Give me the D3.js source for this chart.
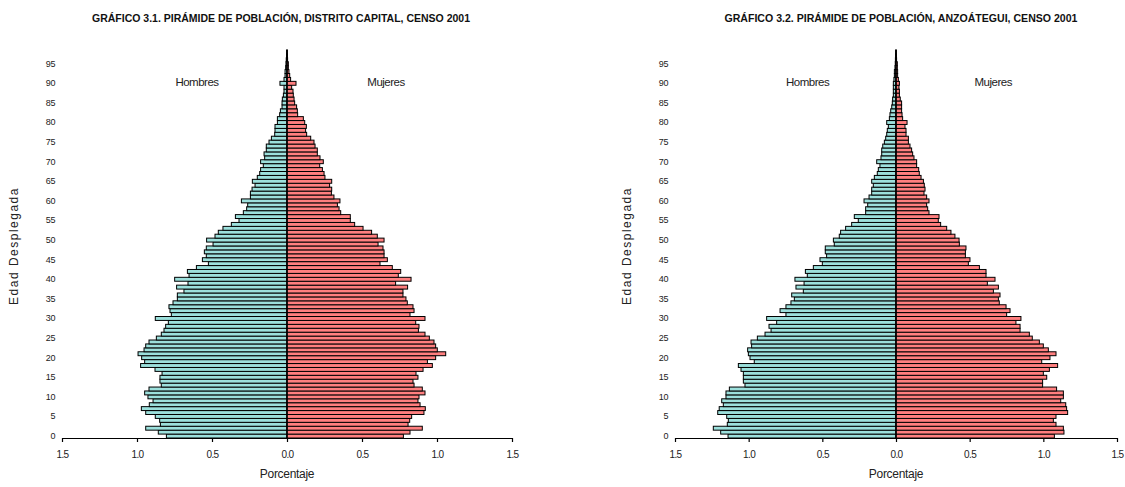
<!DOCTYPE html>
<html>
<head>
<meta charset="utf-8">
<script src="https://cdn.jsdelivr.net/npm/d3@7"></script>
<style>
  body { margin: 0; background: #fff; }
  svg text { font-family: "Liberation Sans", Arial, sans-serif; fill: #222; }
</style>
</head>
<body>
<svg id="chart" width="1125" height="487"></svg>
<script>
// edades 0..98
const ages = d3.range(0, 99);
const ageTicks = d3.range(0, 100, 5);
const tickValues = [-1.5, -1, -0.5, 0, 0.5, 1, 1.5];
const tickLabels = ['1.5', '1.0', '0.5', '0.0', '0.5', '1.0', '1.5'];

// Distrito Capital (% por edad simple)
const dcHombres = [
  0.804, 0.858, 0.942, 0.844, 0.849, 0.878, 0.942, 0.971, 0.918, 0.893,
  0.927, 0.949, 0.920, 0.838, 0.847, 0.847, 0.833, 0.880, 0.976, 0.949,
  0.969, 0.993, 0.953, 0.942, 0.920, 0.871, 0.838, 0.820, 0.809, 0.791,
  0.878, 0.771, 0.780, 0.787, 0.760, 0.731, 0.731, 0.687, 0.736, 0.660,
  0.749, 0.653, 0.664, 0.604, 0.524, 0.564, 0.538, 0.551, 0.538, 0.493,
  0.536, 0.480, 0.458, 0.427, 0.371, 0.320, 0.344, 0.291, 0.269, 0.262,
  0.304, 0.244, 0.244, 0.233, 0.213, 0.231, 0.198, 0.182, 0.176, 0.158,
  0.176, 0.149, 0.153, 0.138, 0.138, 0.120, 0.104, 0.082, 0.080, 0.080,
  0.064, 0.064, 0.049, 0.044, 0.033, 0.033, 0.031, 0.024, 0.020, 0.020,
  0.047, 0.020, 0.013, 0.013, 0.009, 0.007, 0.005, 0.003, 0.002
];
const dcMujeres = [
  0.776, 0.820, 0.902, 0.807, 0.818, 0.831, 0.913, 0.922, 0.887, 0.873,
  0.880, 0.920, 0.902, 0.847, 0.840, 0.873, 0.860, 0.907, 0.969, 0.936,
  0.991, 1.058, 1.002, 0.991, 0.980, 0.949, 0.920, 0.876, 0.880, 0.858,
  0.920, 0.820, 0.847, 0.840, 0.802, 0.793, 0.773, 0.773, 0.804, 0.724,
  0.827, 0.742, 0.758, 0.702, 0.620, 0.669, 0.647, 0.647, 0.640, 0.607,
  0.647, 0.602, 0.564, 0.507, 0.451, 0.422, 0.422, 0.358, 0.347, 0.336,
  0.353, 0.313, 0.296, 0.298, 0.284, 0.298, 0.253, 0.247, 0.236, 0.218,
  0.242, 0.220, 0.202, 0.202, 0.187, 0.180, 0.158, 0.131, 0.124, 0.129,
  0.118, 0.109, 0.071, 0.069, 0.064, 0.051, 0.047, 0.042, 0.040, 0.031,
  0.060, 0.024, 0.018, 0.013, 0.009, 0.009, 0.004, 0.003, 0.002
];

// Anzoátegui
const anzHombres = [
  1.140, 1.190, 1.240, 1.145, 1.138, 1.149, 1.210, 1.200, 1.172, 1.183,
  1.154, 1.154, 1.131, 1.025, 1.036, 1.036, 1.036, 1.052, 1.070, 0.962,
  0.991, 1.002, 1.007, 0.980, 0.984, 0.941, 0.889, 0.848, 0.862, 0.810,
  0.878, 0.747, 0.787, 0.747, 0.713, 0.690, 0.708, 0.629, 0.679, 0.624,
  0.686, 0.602, 0.615, 0.561, 0.500, 0.516, 0.471, 0.480, 0.480, 0.419,
  0.425, 0.385, 0.376, 0.342, 0.301, 0.256, 0.283, 0.206, 0.206, 0.192,
  0.217, 0.183, 0.165, 0.165, 0.154, 0.165, 0.147, 0.127, 0.120, 0.109,
  0.131, 0.102, 0.097, 0.097, 0.090, 0.079, 0.070, 0.063, 0.059, 0.052,
  0.063, 0.045, 0.041, 0.036, 0.029, 0.025, 0.023, 0.018, 0.018, 0.018,
  0.018, 0.014, 0.011, 0.011, 0.007, 0.005, 0.004, 0.003, 0.002
];
const anzMujeres = [
  1.075, 1.140, 1.136, 1.086, 1.068, 1.086, 1.165, 1.158, 1.152, 1.118,
  1.136, 1.136, 1.090, 0.995, 0.995, 1.023, 1.000, 1.041, 1.097, 0.989,
  1.045, 1.086, 1.034, 1.000, 0.973, 0.925, 0.905, 0.842, 0.842, 0.814,
  0.848, 0.751, 0.774, 0.747, 0.701, 0.695, 0.706, 0.661, 0.695, 0.620,
  0.672, 0.611, 0.611, 0.566, 0.491, 0.502, 0.471, 0.471, 0.475, 0.430,
  0.428, 0.400, 0.373, 0.344, 0.303, 0.287, 0.292, 0.224, 0.215, 0.208,
  0.224, 0.208, 0.190, 0.197, 0.192, 0.186, 0.170, 0.158, 0.154, 0.140,
  0.140, 0.122, 0.113, 0.106, 0.095, 0.084, 0.084, 0.068, 0.068, 0.061,
  0.075, 0.045, 0.041, 0.038, 0.038, 0.038, 0.029, 0.023, 0.023, 0.020,
  0.023, 0.016, 0.011, 0.011, 0.009, 0.009, 0.004, 0.003, 0.002
];

const panels = [
  { title: 'GRÁFICO 3.1. PIRÁMIDE DE POBLACIÓN, DISTRITO CAPITAL, CENSO 2001',
    hombres: dcHombres, mujeres: dcMujeres, x0: 62, x1: 512, titleX: 281, titleW: 378 },
  { title: 'GRÁFICO 3.2. PIRÁMIDE DE POBLACIÓN, ANZOÁTEGUI, CENSO 2001',
    hombres: anzHombres, mujeres: anzMujeres, x0: 675, x1: 1117, titleX: 901, titleW: 353 }
];

const svg = d3.select('#chart');
const yTop = 50, yBottom = 438;

const y = d3.scaleBand()
  .domain(ages)
  .range([yBottom, yTop])
  .padding(0);

panels.forEach(p => {
  const g = svg.append('g');
  const x = d3.scaleLinear().domain([-1.5, 1.5]).range([p.x0, p.x1]);

  // titulo
  g.append('text')
    .attr('x', p.titleX)
    .attr('y', 22)
    .attr('text-anchor', 'middle')
    .attr('textLength', p.titleW)
    .attr('lengthAdjust', 'spacingAndGlyphs')
    .style('font-size', '11px')
    .style('font-weight', 'bold')
    .style('fill', '#111')
    .text(p.title);

  // barras hombres (izquierda)
  g.append('g')
    .selectAll('rect')
    .data(p.hombres)
    .join('rect')
    .attr('x', d => x(-d))
    .attr('y', (d, i) => y(ages[i]))
    .attr('width', d => x(0) - x(-d))
    .attr('height', y.bandwidth())
    .attr('fill', '#9CE0DC')
    .attr('stroke', '#000')
    .attr('stroke-width', 1);

  // barras mujeres (derecha)
  g.append('g')
    .selectAll('rect')
    .data(p.mujeres)
    .join('rect')
    .attr('x', x(0))
    .attr('y', (d, i) => y(ages[i]))
    .attr('width', d => x(d) - x(0))
    .attr('height', y.bandwidth())
    .attr('fill', '#FF7F7F')
    .attr('stroke', '#000')
    .attr('stroke-width', 1);

  // linea central
  g.append('line')
    .attr('x1', x(0)).attr('x2', x(0))
    .attr('y1', yTop).attr('y2', yBottom)
    .attr('stroke', '#000')
    .attr('stroke-width', 1.5);

  // eje x
  const xAxis = g.append('g')
    .attr('transform', `translate(0,${yBottom})`)
    .call(d3.axisBottom(x)
      .tickValues(tickValues)
      .tickFormat((d, i) => tickLabels[i])
      .tickSize(4)
      .tickSizeOuter(0));
  xAxis.select('.domain').attr('stroke', '#000').attr('stroke-width', 1.2);
  xAxis.selectAll('.tick line').attr('stroke', '#000').attr('stroke-width', 1.2);
  xAxis.selectAll('.tick text')
    .attr('y', 13)
    .style('font-size', '10px')
    .style('letter-spacing', '-0.6px')
    .style('fill', '#222');

  // eje y (edades)
  const yAxis = g.append('g')
    .attr('transform', `translate(${p.x0 - 7},0)`)
    .call(d3.axisLeft(y).tickValues(ageTicks).tickSize(0));
  yAxis.select('.domain').remove();
  yAxis.selectAll('.tick text')
    .attr('x', 0)
    .style('font-size', '9px')
    .style('letter-spacing', '-0.4px')
    .style('fill', '#222');

  // rotulos
  g.append('text')
    .attr('transform', `translate(${p.x0 - 44},${(yTop + yBottom) / 2 + 2}) rotate(-90)`)
    .attr('text-anchor', 'middle')
    .style('font-size', '12px')
    .style('letter-spacing', '1.5px')
    .text('Edad Desplegada');

  g.append('text')
    .attr('x', x(0))
    .attr('y', yBottom + 40)
    .attr('text-anchor', 'middle')
    .style('font-size', '12px')
    .style('letter-spacing', '-0.3px')
    .text('Porcentaje');

  g.append('text')
    .attr('x', x(-0.6))
    .attr('y', 86)
    .attr('text-anchor', 'middle')
    .style('font-size', '11.5px')
    .style('letter-spacing', '-0.5px')
    .text('Hombres');

  g.append('text')
    .attr('x', x(0.66))
    .attr('y', 86)
    .attr('text-anchor', 'middle')
    .style('font-size', '11.5px')
    .style('letter-spacing', '-0.5px')
    .text('Mujeres');
});
</script>
</body>
</html>
